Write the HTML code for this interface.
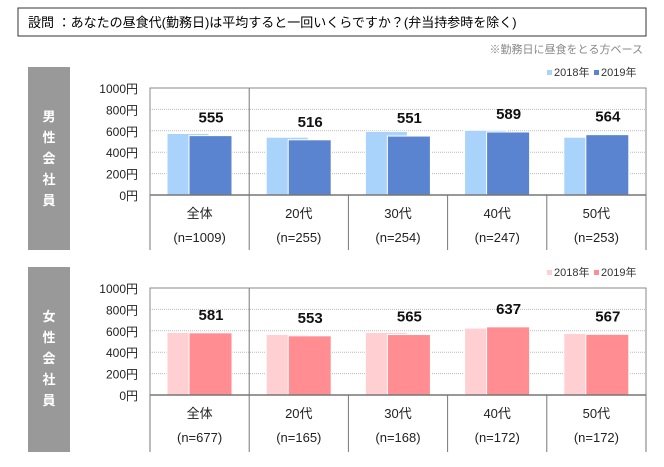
<!DOCTYPE html>
<html><head><meta charset="utf-8"><style>
body{margin:0;background:#fff;width:664px;height:462px;overflow:hidden;font-family:"Liberation Sans","Noto Sans CJK JP",sans-serif;}
</style></head><body>
<svg id="c" width="664" height="462" xmlns="http://www.w3.org/2000/svg" font-family="Liberation Sans, Noto Sans CJK JP, sans-serif">
<rect x="18" y="8" width="628" height="28" fill="#fff" stroke="#333" stroke-width="1"/>
<text x="28" y="27" font-size="13" fill="#000">設問 ：あなたの昼食代(勤務日)は平均すると一回いくらですか？(弁当持参時を除く)</text>
<text x="643" y="53" font-size="11" fill="#888" text-anchor="end">※勤務日に昼食をとる方ベース</text>
</svg>
<script>
const categories=["全体","20代","30代","40代","50代"];
const menN=["(n=1009)","(n=255)","(n=254)","(n=247)","(n=253)"];
const womenN=["(n=677)","(n=165)","(n=168)","(n=172)","(n=172)"];
const men2018=[575,540,595,605,540];
const men2019=[555,516,551,589,564];
const women2018=[585,565,585,625,575];
const women2019=[581,553,565,637,567];
const yTicks=[0,200,400,600,800,1000];
const tickLabels=["0円","200円","400円","600円","800円","1000円"];

const svg=document.getElementById('c');
const NS="http://www.w3.org/2000/svg";
function mk(t,a,p){const e=document.createElementNS(NS,t);for(const k in a)e.setAttribute(k,a[k]);(p||svg).appendChild(e);return e;}

function panel(top,zero,bottom,sideLabel,c18,c19,d18,d19,nLabels,pfx){
  const L=150,R=646,W=(R-L)/categories.length;
  const y=v=>zero-(zero-top)*v/1000;
  const g=mk('g',{});
  
  
  const side=mk('rect',{x:28,y:top-21,width:42,height:bottom-top+21,fill:'#999'},g);
  
  
  const chars=sideLabel.split('');
  chars.forEach((ch,i)=>{const t=mk('text',{x:49,y:top+33+i*21,'font-size':13,'font-weight':'bold',fill:'#fff','text-anchor':'middle'},g);t.textContent=ch;
    
    });
  // legend
  const lg=mk('g',{},g);
  
  
  mk('rect',{x:547,y:top-18,width:5,height:5,fill:c18},lg);
  let t=mk('text',{x:554,y:top-12,'font-size':11,fill:'#333'},lg);t.textContent='2018年';
  mk('rect',{x:594,y:top-18,width:5,height:5,fill:c19},lg);
  t=mk('text',{x:601,y:top-12,'font-size':11,fill:'#333'},lg);t.textContent='2019年';
  // grid and ticks
  yTicks.forEach((v,i)=>{
    if(v>0&&v<1000){const gl=mk('line',{x1:L,x2:R,y1:y(v),y2:y(v),stroke:'#bbb','stroke-dasharray':'1,1'},g);
      
      }
    const tl=mk('text',{x:138,y:y(v)+5,'font-size':12,fill:'#222','text-anchor':'end'},g);tl.textContent=tickLabels[i];
    
    
  });
  // bars
  categories.forEach((c,i)=>{
    const x0=L+i*W;
    const b1=mk('rect',{x:x0+17,y:y(d18[i]),width:42,height:zero-y(d18[i]),fill:c18,stroke:'#fff','stroke-width':1},g);
    
    
    const b2=mk('rect',{x:x0+39,y:y(d19[i]),width:43,height:zero-y(d19[i]),fill:c19,stroke:'#fff','stroke-width':1},g);
    
    
    const vl=mk('text',{x:x0+61,y:y(d19[i])-13,'font-size':15,'font-weight':'bold',fill:'#111','text-anchor':'middle'},g);vl.textContent=d19[i];
    
    
    const cl=mk('text',{x:x0+W/2,y:zero+23,'font-size':13,fill:'#222','text-anchor':'middle'},g);cl.textContent=c;
    
    
    const nl=mk('text',{x:x0+W/2,y:zero+47,'font-size':13,fill:'#222','text-anchor':'middle'},g);nl.textContent=nLabels[i];
    
    
    if(i>0){mk('line',{x1:x0,x2:x0,y1:(i===1?top:zero),y2:bottom,stroke:'#777'},g);}
  });
  mk('rect',{x:L,y:top,width:R-L,height:zero-top,fill:'none',stroke:'#888'},g);
  mk('line',{x1:L,x2:R,y1:zero,y2:zero,stroke:'#777','stroke-width':1.5},g);
  mk('line',{x1:L,x2:L,y1:zero,y2:bottom,stroke:'#777'},g);
  mk('line',{x1:R,x2:R,y1:zero,y2:bottom,stroke:'#777'},g);
}
panel(88,195,250,"男性会社員","#a9d3fb","#5b84d0",men2018,men2019,menN,'men');
panel(288,395,452,"女性会社員","#ffcfd2","#ff8d92",women2018,women2019,womenN,'women');
</script>
</body></html>
